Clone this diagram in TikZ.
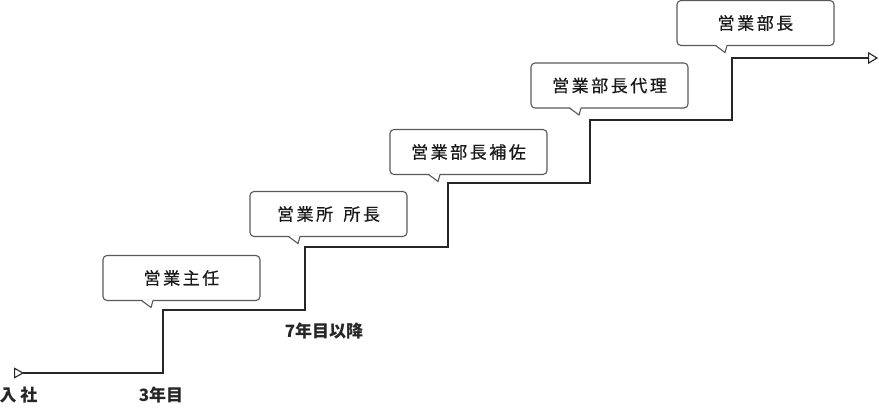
\documentclass[tikz,border=0pt]{standalone}
\usepackage{fontspec}
\setmainfont{Noto Sans CJK JP}
\usepackage{tikz}
\usetikzlibrary{arrows.meta}

\begin{document}
\begin{tikzpicture}[x=1pt, y=1pt,
    post/.style={draw=black!65, line width=1.1pt, rounded corners=4pt, outer sep=0pt,
        minimum width=157pt, minimum height=45pt, inner sep=0pt, text=black!90,
        font=\fontsize{17}{17}\selectfont\addfontfeature{LetterSpace=15,FakeBold=0.6}},
    tail/.style={draw=black!65, line width=1.1pt, line join=miter},
    stair/.style={draw=black!85, line width=1.1pt},
    year/.style={inner sep=0pt, text=black!85, font=\fontsize{17}{17}\selectfont\bfseries}]
                \useasboundingbox (0,0) rectangle (879,408);
                \coordinate (s0) at (14,35);
                \coordinate (s1) at (163,35);
                \coordinate (s2) at (163,98);
                \coordinate (s3) at (305,98);
                \coordinate (s4) at (305,161);
                \coordinate (s5) at (448,161);
                \coordinate (s6) at (448,225);
                \coordinate (s7) at (590,225);
                \coordinate (s8) at (590,288);
                \coordinate (s9) at (732,288);
                \coordinate (s10) at (732,350);
                \coordinate (s11) at (878,350);
                \draw[stair, {Triangle[open,reversed,length=10pt,width=11pt]}-{Triangle[open,length=10pt,width=12pt]}]
                    (s0) -- (s1) -- (s2) -- (s3) -- (s4) -- (s5) -- (s6) -- (s7) -- (s8) -- (s9) -- (s10) -- (s11);
                \node[post] (shunin) at (181.5,130) {営業主任};
                \node[post] (shocho) at (328.5,194) {営業所\hspace{4pt} 所長};
                \node[post] (hosa) at (468.5,256) {営業部長補佐};
                \node[post] (dairi) at (609.5,322.5) {営業部長代理};
                \node[post] (bucho) at (755.5,385) {営業部長};
                \fill[white] ([xshift=38.5pt,yshift=1pt]shunin.south west) -- ([xshift=48pt,yshift=-7pt]shunin.south west) -- ([xshift=50pt,yshift=1pt]shunin.south west) -- cycle;
                \draw[tail] ([xshift=38.5pt]shunin.south west) -- ([xshift=48pt,yshift=-7pt]shunin.south west) -- ([xshift=50pt]shunin.south west);
                \fill[white] ([xshift=38.5pt,yshift=1pt]shocho.south west) -- ([xshift=48pt,yshift=-7pt]shocho.south west) -- ([xshift=50pt,yshift=1pt]shocho.south west) -- cycle;
                \draw[tail] ([xshift=38.5pt]shocho.south west) -- ([xshift=48pt,yshift=-7pt]shocho.south west) -- ([xshift=50pt]shocho.south west);
                \fill[white] ([xshift=38.5pt,yshift=1pt]hosa.south west) -- ([xshift=48pt,yshift=-7pt]hosa.south west) -- ([xshift=50pt,yshift=1pt]hosa.south west) -- cycle;
                \draw[tail] ([xshift=38.5pt]hosa.south west) -- ([xshift=48pt,yshift=-7pt]hosa.south west) -- ([xshift=50pt]hosa.south west);
                \fill[white] ([xshift=38.5pt,yshift=1pt]dairi.south west) -- ([xshift=48pt,yshift=-7pt]dairi.south west) -- ([xshift=50pt,yshift=1pt]dairi.south west) -- cycle;
                \draw[tail] ([xshift=38.5pt]dairi.south west) -- ([xshift=48pt,yshift=-7pt]dairi.south west) -- ([xshift=50pt]dairi.south west);
                \fill[white] ([xshift=38.5pt,yshift=1pt]bucho.south west) -- ([xshift=48pt,yshift=-7pt]bucho.south west) -- ([xshift=50pt,yshift=1pt]bucho.south west) -- cycle;
                \draw[tail] ([xshift=38.5pt]bucho.south west) -- ([xshift=48pt,yshift=-7pt]bucho.south west) -- ([xshift=50pt]bucho.south west);
                \node[year] (nyusha) at (18.5,13) {入\hspace{4pt}社};
                \node[year] (year3) at (161,13) {3年目};
                \node[year] (year7) at (324,77) {7年目以降};
            \end{tikzpicture}
\end{document}
